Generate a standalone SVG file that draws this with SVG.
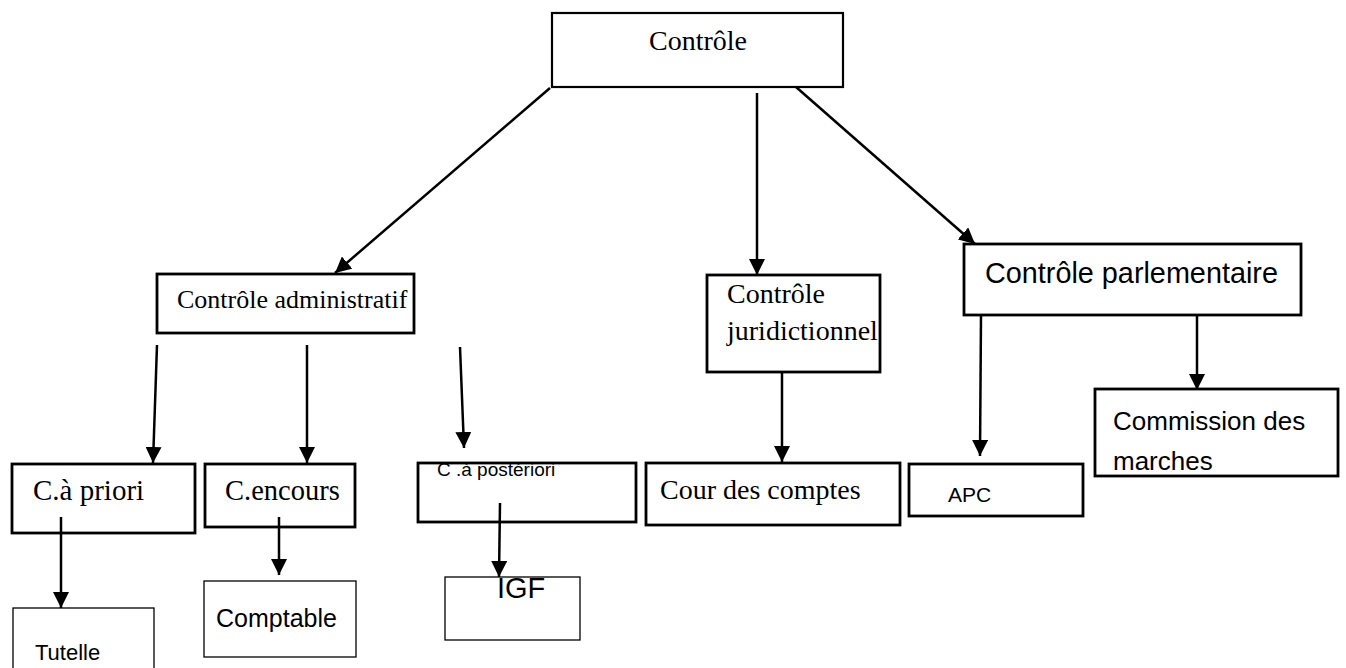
<svg xmlns="http://www.w3.org/2000/svg" width="1346" height="668" viewBox="0 0 1346 668">
<style>
.box{fill:#fff;stroke:#000;stroke-width:2.8}
.thin{fill:#fff;stroke:#000;stroke-width:1.3}
.serif{font-family:"Liberation Serif","Times New Roman",serif;fill:#000}
.sans{font-family:"Liberation Sans",Arial,sans-serif;fill:#000}
.conn line{stroke:#000;stroke-width:2.5;marker-end:url(#arr)}
</style>
<defs>
<marker id="arr" markerUnits="userSpaceOnUse" markerWidth="17" markerHeight="16" refX="16" refY="8" orient="auto">
<path d="M0,0 L16,8 L0,16 z" fill="#000"/>
</marker>
</defs>
<rect width="1346" height="668" fill="#fff"/>
<g id="n-controle"><rect class="box" x="552" y="13" width="291" height="74" style="stroke-width:2.2"/><text class="serif" x="698" y="50" text-anchor="middle" font-size="28">Contrôle</text></g>
<g id="n-admin"><rect class="box" x="157" y="274" width="257" height="59"/><text class="serif" x="177" y="308" font-size="26">Contrôle administratif</text></g>
<g id="n-jurid"><rect class="box" x="707" y="275" width="173" height="97"/><text class="serif" x="727" y="303" font-size="28">Contrôle</text><text class="serif" x="727" y="340" font-size="28">juridictionnel</text></g>
<g id="n-parl"><rect class="box" x="964" y="244" width="337" height="71"/><text class="sans" x="985" y="283" font-size="28.8">Contrôle parlementaire</text></g>
<g id="n-priori"><rect class="box" x="12" y="464" width="183" height="69"/><text class="serif" x="33" y="500" font-size="29">C.à priori</text></g>
<g id="n-encours"><rect class="box" x="205" y="464" width="150" height="63"/><text class="serif" x="225" y="500" font-size="28.5">C.encours</text></g>
<g id="n-posteriori"><rect class="box" x="418" y="463" width="218" height="59"/><text class="sans" x="437" y="476" font-size="19">C .à postériori</text></g>
<g id="n-cour"><rect class="box" x="646" y="463" width="254" height="62"/><text class="serif" x="660" y="499" font-size="28">Cour des comptes</text></g>
<g id="n-apc"><rect class="box" x="909" y="464" width="174" height="52"/><text class="sans" x="948" y="502" font-size="21">APC</text></g>
<g id="n-commission"><rect class="box" x="1095" y="389" width="243" height="87"/><text class="sans" x="1113" y="430" font-size="26">Commission des</text><text class="sans" x="1113" y="470" font-size="26">marches</text></g>
<g id="n-tutelle"><rect class="thin" x="13" y="608" width="141" height="80"/><text class="sans" x="35" y="660" font-size="22">Tutelle</text></g>
<g id="n-comptable"><rect class="thin" x="204" y="581" width="152" height="76"/><text class="sans" x="216" y="627" font-size="25">Comptable</text></g>
<g id="n-igf"><rect class="thin" x="445" y="577" width="135" height="63"/><text class="sans" x="497" y="598" font-size="29">IGF</text></g>
<g class="conn" id="connectors">
<line x1="550" y1="88" x2="335" y2="273"/>
<line x1="757" y1="93" x2="757" y2="275"/>
<line x1="796" y1="87" x2="975" y2="244"/>
<line x1="157" y1="345" x2="153" y2="463"/>
<line x1="307" y1="345" x2="307" y2="463"/>
<line x1="460" y1="347" x2="464" y2="448"/>
<line x1="61" y1="517" x2="61" y2="608"/>
<line x1="279" y1="517" x2="279" y2="575"/>
<line x1="500" y1="503" x2="499" y2="577"/>
<line x1="782" y1="372" x2="782" y2="462"/>
<line x1="981" y1="315" x2="980" y2="456"/>
<line x1="1197" y1="315" x2="1197" y2="390"/>
</g>
</svg>
